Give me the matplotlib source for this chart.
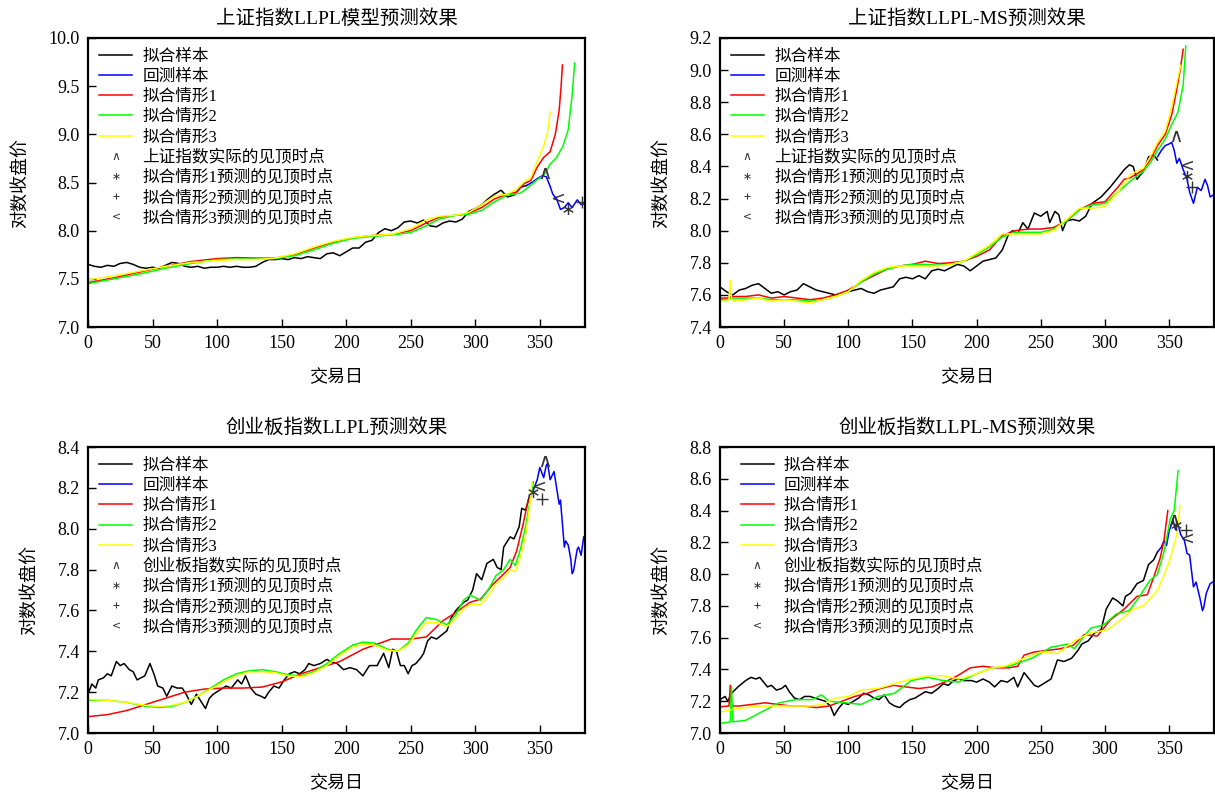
import matplotlib
matplotlib.use("Agg")
import matplotlib.pyplot as plt
from matplotlib.lines import Line2D

plt.rcParams['font.family'] = ['Liberation Serif', 'Noto Sans CJK SC']
plt.rcParams['axes.unicode_minus'] = False

# ---------------- Panel 1: 上证指数 LLPL ----------------
p1_title = "上证指数LLPL模型预测效果"
p1_black_x = [0, 5, 10, 15, 20, 25, 30, 35, 40, 45, 50, 55, 60, 65, 70, 75, 80, 85, 90, 95, 100, 105, 110, 115, 120, 125, 130, 135, 140, 145, 150, 155, 160, 165, 170, 175, 180, 185, 190, 195, 200, 205, 210, 215, 220, 225, 230, 235, 240, 245, 250, 255, 260, 265, 270, 275, 280, 285, 290, 295, 300, 305, 310, 315, 320, 325, 330, 335, 340]
p1_black_y = [7.65, 7.63, 7.62, 7.64, 7.63, 7.66, 7.67, 7.65, 7.62, 7.61, 7.62, 7.61, 7.64, 7.67, 7.66, 7.63, 7.62, 7.63, 7.61, 7.62, 7.62, 7.63, 7.62, 7.63, 7.62, 7.62, 7.63, 7.67, 7.70, 7.70, 7.71, 7.70, 7.72, 7.71, 7.73, 7.72, 7.71, 7.76, 7.77, 7.74, 7.78, 7.82, 7.82, 7.88, 7.90, 7.98, 8.02, 8.00, 8.03, 8.09, 8.10, 8.08, 8.11, 8.05, 8.04, 8.08, 8.10, 8.09, 8.12, 8.20, 8.23, 8.27, 8.33, 8.38, 8.42, 8.35, 8.37, 8.45, 8.47]
p1_blue_x = [340, 345, 348, 352, 355, 358, 360, 363, 366, 369, 372, 375, 379, 382, 385]
p1_blue_y = [8.47, 8.51, 8.54, 8.57, 8.56, 8.46, 8.38, 8.33, 8.22, 8.24, 8.29, 8.24, 8.32, 8.27, 8.28]
p1_red_x = [0, 20, 40, 60, 80, 100, 115, 130, 145, 160, 175, 190, 205, 220, 235, 250, 262, 272, 285, 295, 305, 315, 325, 332, 338, 343, 348, 353, 358, 362, 365, 366.5, 367.5]
p1_red_y = [7.46, 7.51, 7.57, 7.63, 7.68, 7.71, 7.72, 7.715, 7.715, 7.75, 7.82, 7.88, 7.925, 7.95, 7.96, 8.00, 8.08, 8.14, 8.16, 8.18, 8.24, 8.33, 8.38, 8.40, 8.49, 8.52, 8.66, 8.76, 8.82, 9.00, 9.25, 9.50, 9.72]
p1_green_x = [0, 20, 40, 60, 80, 100, 115, 130, 145, 160, 175, 190, 205, 220, 235, 250, 262, 272, 285, 295, 305, 315, 325, 335, 342, 348, 353, 358, 363, 368, 372, 375, 377]
p1_green_y = [7.45, 7.50, 7.55, 7.61, 7.66, 7.70, 7.705, 7.705, 7.71, 7.74, 7.80, 7.87, 7.92, 7.94, 7.955, 7.98, 8.05, 8.12, 8.16, 8.17, 8.21, 8.30, 8.37, 8.39, 8.46, 8.53, 8.57, 8.69, 8.76, 8.88, 9.05, 9.40, 9.74]
p1_yellow_x = [0, 20, 40, 60, 80, 100, 115, 130, 145, 160, 175, 190, 205, 220, 235, 250, 262, 272, 285, 295, 305, 315, 325, 332, 338, 343, 348, 353, 356, 358]
p1_yellow_y = [7.49, 7.53, 7.58, 7.63, 7.67, 7.69, 7.70, 7.70, 7.715, 7.76, 7.83, 7.89, 7.93, 7.95, 7.96, 8.02, 8.11, 8.15, 8.16, 8.19, 8.27, 8.36, 8.38, 8.43, 8.51, 8.55, 8.72, 8.88, 9.02, 9.23]
p1_peak = [(354, 8.60)]
p1_top1 = [(372, 8.22)]
p1_top2 = [(382.6, 8.30)]
p1_top3 = [(364, 8.34)]
p1_yticks = [7.0, 7.5, 8.0, 8.5, 9.0, 9.5, 10.0]

# ---------------- Panel 2: 上证指数 LLPL-MS ----------------
p2_title = "上证指数LLPL-MS预测效果"
p2_black_x = [0, 5, 10, 15, 20, 25, 30, 35, 40, 45, 50, 55, 60, 65, 70, 75, 80, 85, 90, 95, 100, 105, 110, 115, 120, 125, 130, 135, 140, 145, 150, 155, 160, 165, 170, 175, 180, 185, 190, 195, 200, 205, 210, 215, 220, 225, 228, 232, 236, 240, 245, 250, 255, 257, 261, 264, 267, 270, 275, 280, 285, 290, 297, 304, 310, 315, 319, 322, 325, 330, 334, 338, 341]
p2_black_y = [7.65, 7.62, 7.60, 7.63, 7.64, 7.66, 7.67, 7.64, 7.61, 7.62, 7.60, 7.62, 7.63, 7.67, 7.65, 7.63, 7.62, 7.61, 7.60, 7.61, 7.62, 7.63, 7.64, 7.62, 7.61, 7.63, 7.64, 7.65, 7.70, 7.71, 7.70, 7.72, 7.70, 7.75, 7.76, 7.75, 7.77, 7.79, 7.78, 7.75, 7.78, 7.81, 7.82, 7.83, 7.88, 7.98, 8.00, 7.98, 8.05, 8.01, 8.11, 8.09, 8.12, 8.05, 8.12, 8.10, 8.00, 8.06, 8.07, 8.06, 8.09, 8.17, 8.21, 8.27, 8.33, 8.38, 8.41, 8.40, 8.32, 8.37, 8.46, 8.47, 8.44]
p2_blue_x = [341, 344, 347, 350, 352, 354, 356, 358, 361, 364, 366, 369, 372, 375, 378, 380, 382, 384]
p2_blue_y = [8.46, 8.50, 8.53, 8.54, 8.55, 8.50, 8.42, 8.45, 8.38, 8.32, 8.24, 8.17, 8.27, 8.25, 8.32, 8.28, 8.21, 8.22]
p2_red_x = [0, 5, 10, 20, 30, 40, 50, 60, 70, 80, 90, 100, 110, 120, 130, 140, 150, 160, 170, 180, 190, 200, 210, 220, 230, 240, 250, 260, 270, 280, 290, 300, 310, 315, 320, 330, 336, 341, 347, 352, 356, 359, 361]
p2_red_y = [7.58, 7.58, 7.59, 7.59, 7.60, 7.58, 7.59, 7.58, 7.57, 7.58, 7.60, 7.63, 7.68, 7.72, 7.76, 7.78, 7.79, 7.81, 7.795, 7.80, 7.81, 7.84, 7.88, 7.97, 8.00, 8.01, 8.01, 8.02, 8.06, 8.13, 8.17, 8.18, 8.27, 8.32, 8.33, 8.38, 8.45, 8.53, 8.60, 8.72, 8.88, 9.02, 9.13]
p2_green_x = [0, 5, 10, 20, 30, 40, 50, 60, 70, 80, 90, 100, 110, 120, 130, 140, 150, 160, 170, 180, 190, 200, 210, 220, 230, 240, 250, 260, 270, 280, 290, 300, 310, 320, 330, 336, 341, 347, 352, 357, 361, 363]
p2_green_y = [7.57, 7.57, 7.58, 7.58, 7.58, 7.57, 7.57, 7.57, 7.56, 7.57, 7.59, 7.62, 7.68, 7.73, 7.76, 7.78, 7.79, 7.79, 7.785, 7.79, 7.81, 7.85, 7.90, 7.96, 7.99, 7.99, 7.99, 8.01, 8.06, 8.13, 8.16, 8.17, 8.24, 8.31, 8.37, 8.43, 8.50, 8.57, 8.66, 8.74, 8.91, 9.15]
p2_yellow_x = [0, 5, 7, 8, 9, 12, 20, 30, 40, 50, 60, 70, 80, 90, 100, 110, 120, 130, 140, 150, 160, 170, 180, 190, 200, 210, 220, 230, 240, 250, 260, 270, 280, 290, 300, 310, 320, 330, 336, 341, 347, 352, 356, 359]
p2_yellow_y = [7.56, 7.56, 7.57, 7.69, 7.57, 7.56, 7.57, 7.58, 7.56, 7.57, 7.56, 7.55, 7.57, 7.59, 7.62, 7.69, 7.74, 7.77, 7.78, 7.78, 7.78, 7.78, 7.79, 7.81, 7.86, 7.91, 7.98, 7.98, 7.98, 7.98, 8.00, 8.07, 8.14, 8.14, 8.15, 8.24, 8.35, 8.39, 8.47, 8.55, 8.62, 8.77, 8.92, 9.03]
p2_peak = [(355, 8.59)]
p2_top1 = [(363.6, 8.34)]
p2_top2 = [(368, 8.27)]
p2_top3 = [(363.6, 8.41)]
p2_yticks = [7.4, 7.6, 7.8, 8.0, 8.2, 8.4, 8.6, 8.8, 9.0, 9.2]

# ---------------- Panel 3: 创业板指数 LLPL ----------------
p3_title = "创业板指数LLPL预测效果"
p3_black_x = [0, 3, 6, 8, 12, 15, 18, 22, 25, 28, 32, 35, 38, 41, 44, 48, 51, 54, 58, 61, 65, 69, 73, 76, 80, 84, 88, 91, 94, 97, 102, 107, 111, 116, 119, 122, 126, 130, 134, 137, 140, 144, 148, 152, 156, 160, 164, 168, 171, 175, 180, 185, 188, 193, 198, 203, 208, 213, 218, 224, 229, 233, 236, 239, 242, 245, 248, 251, 254, 258, 260, 263, 266, 270, 274, 278, 281, 285, 288, 291, 294, 298, 301, 305, 309, 314, 317, 320, 322, 327, 330, 334, 336, 339, 342]
p3_black_y = [7.19, 7.24, 7.22, 7.26, 7.27, 7.29, 7.28, 7.35, 7.33, 7.34, 7.31, 7.30, 7.26, 7.27, 7.28, 7.34, 7.29, 7.23, 7.22, 7.18, 7.23, 7.22, 7.22, 7.19, 7.14, 7.19, 7.15, 7.12, 7.17, 7.19, 7.21, 7.23, 7.22, 7.26, 7.24, 7.28, 7.22, 7.19, 7.18, 7.17, 7.20, 7.23, 7.22, 7.26, 7.29, 7.30, 7.29, 7.31, 7.34, 7.33, 7.34, 7.36, 7.35, 7.34, 7.31, 7.32, 7.31, 7.28, 7.33, 7.33, 7.39, 7.32, 7.41, 7.40, 7.33, 7.33, 7.29, 7.33, 7.34, 7.37, 7.39, 7.45, 7.47, 7.46, 7.48, 7.50, 7.56, 7.60, 7.62, 7.64, 7.65, 7.70, 7.78, 7.75, 7.83, 7.85, 7.81, 7.80, 7.91, 7.96, 7.95, 8.01, 8.10, 8.09, 8.16]
p3_blue_x = [342, 345, 348, 350, 353, 355, 356, 358, 361, 363, 365, 366, 369, 370, 372, 374, 375, 376, 379, 380, 382, 384]
p3_blue_y = [8.16, 8.19, 8.24, 8.30, 8.25, 8.31, 8.32, 8.24, 8.28, 8.20, 8.12, 8.14, 7.91, 7.94, 7.92, 7.85, 7.78, 7.79, 7.90, 7.91, 7.87, 7.96]
p3_red_x = [0, 15, 30, 45, 60, 75, 90, 105, 120, 135, 150, 165, 180, 195, 213, 235, 250, 262, 275, 285, 296, 304, 314, 319, 327, 332, 337, 341]
p3_red_y = [7.08, 7.09, 7.11, 7.14, 7.17, 7.20, 7.215, 7.22, 7.22, 7.225, 7.25, 7.29, 7.32, 7.35, 7.41, 7.46, 7.46, 7.47, 7.55, 7.59, 7.64, 7.655, 7.73, 7.76, 7.81, 7.89, 8.02, 8.14]
p3_green_x = [0, 15, 30, 45, 55, 65, 75, 85, 95, 105, 115, 125, 135, 145, 155, 165, 175, 185, 195, 205, 213, 222, 232, 240, 248, 255, 262, 270, 278, 285, 291, 296, 304, 310, 316, 322, 327, 331, 335, 339, 342, 345]
p3_green_y = [7.16, 7.16, 7.15, 7.13, 7.125, 7.13, 7.15, 7.18, 7.22, 7.26, 7.29, 7.305, 7.31, 7.30, 7.285, 7.28, 7.30, 7.34, 7.39, 7.43, 7.445, 7.44, 7.41, 7.40, 7.44, 7.51, 7.565, 7.555, 7.53, 7.58, 7.65, 7.675, 7.65, 7.70, 7.77, 7.80, 7.85, 7.82, 7.90, 8.01, 8.12, 8.23]
p3_yellow_x = [0, 15, 30, 45, 55, 65, 75, 85, 95, 105, 115, 125, 135, 145, 155, 165, 175, 185, 195, 205, 213, 222, 232, 240, 248, 255, 262, 270, 278, 285, 291, 296, 304, 310, 316, 322, 327, 331, 335, 339, 342, 344]
p3_yellow_y = [7.165, 7.16, 7.15, 7.135, 7.13, 7.135, 7.15, 7.18, 7.215, 7.25, 7.28, 7.30, 7.30, 7.295, 7.28, 7.275, 7.295, 7.33, 7.38, 7.42, 7.435, 7.43, 7.405, 7.40, 7.43, 7.49, 7.54, 7.54, 7.52, 7.56, 7.61, 7.63, 7.63, 7.67, 7.73, 7.76, 7.80, 7.79, 7.86, 7.97, 8.10, 8.23]
p3_peak = [(354.3, 8.33)]
p3_top1 = [(345, 8.18)]
p3_top2 = [(351.7, 8.145)]
p3_top3 = [(349, 8.21)]
p3_yticks = [7.0, 7.2, 7.4, 7.6, 7.8, 8.0, 8.2, 8.4]

# ---------------- Panel 4: 创业板指数 LLPL-MS ----------------
p4_title = "创业板指数LLPL-MS预测效果"
p4_black_x = [0, 4, 6, 9, 14, 17, 20, 24, 28, 31, 34, 37, 40, 44, 48, 51, 54, 58, 62, 66, 70, 74, 78, 82, 86, 89, 92, 96, 100, 104, 108, 112, 116, 120, 124, 128, 132, 136, 140, 144, 148, 152, 156, 160, 165, 170, 174, 178, 182, 186, 190, 196, 200, 205, 210, 214, 219, 224, 229, 232, 237, 241, 245, 248, 252, 258, 263, 268, 274, 279, 282, 287, 292, 297, 301, 306, 310, 314, 316, 320, 325, 330, 334, 338, 341]
p4_black_y = [7.21, 7.23, 7.20, 7.25, 7.29, 7.31, 7.33, 7.35, 7.34, 7.35, 7.32, 7.29, 7.30, 7.27, 7.28, 7.30, 7.26, 7.22, 7.21, 7.23, 7.23, 7.22, 7.21, 7.20, 7.17, 7.11, 7.15, 7.19, 7.18, 7.20, 7.22, 7.25, 7.24, 7.22, 7.21, 7.24, 7.19, 7.17, 7.16, 7.19, 7.21, 7.22, 7.24, 7.26, 7.25, 7.28, 7.31, 7.30, 7.33, 7.34, 7.33, 7.33, 7.32, 7.34, 7.32, 7.29, 7.33, 7.32, 7.35, 7.29, 7.38, 7.34, 7.30, 7.29, 7.31, 7.34, 7.46, 7.45, 7.47, 7.52, 7.56, 7.58, 7.63, 7.65, 7.78, 7.85, 7.83, 7.80, 7.86, 7.88, 7.94, 7.96, 8.06, 8.09, 8.14]
p4_blue_x = [341, 344, 346, 348, 350, 353, 355, 357, 359, 362, 364, 366, 369, 371, 374, 376, 377, 379, 382, 384]
p4_blue_y = [8.14, 8.17, 8.21, 8.18, 8.27, 8.34, 8.28, 8.31, 8.25, 8.21, 8.13, 8.12, 7.92, 7.95, 7.85, 7.77, 7.79, 7.88, 7.94, 7.95]
p4_red_x = [0, 7, 8, 9, 15, 25, 35, 45, 55, 65, 75, 85, 95, 105, 115, 125, 135, 145, 155, 165, 175, 185, 195, 205, 215, 225, 232, 237, 245, 255, 265, 275, 284, 294, 304, 315, 325, 333, 338, 343, 346, 349]
p4_red_y = [7.165, 7.17, 7.30, 7.17, 7.17, 7.18, 7.19, 7.18, 7.17, 7.17, 7.16, 7.17, 7.20, 7.23, 7.25, 7.28, 7.30, 7.29, 7.28, 7.29, 7.32, 7.36, 7.41, 7.42, 7.41, 7.41, 7.42, 7.49, 7.51, 7.52, 7.53, 7.55, 7.62, 7.61, 7.71, 7.78, 7.86, 7.87, 7.98, 8.10, 8.21, 8.40]
p4_green_x = [0, 8, 9, 10, 20, 33, 46, 59, 72, 79, 85, 98, 110, 123, 136, 149, 162, 174, 186, 199, 212, 225, 243, 258, 271, 276, 289, 299, 309, 319, 327, 335, 341, 346, 351, 354, 357]
p4_green_y = [7.06, 7.07, 7.29, 7.07, 7.08, 7.135, 7.19, 7.21, 7.21, 7.24, 7.20, 7.19, 7.18, 7.23, 7.25, 7.33, 7.35, 7.33, 7.32, 7.37, 7.41, 7.42, 7.47, 7.54, 7.56, 7.53, 7.66, 7.68, 7.75, 7.77, 7.86, 7.96, 8.00, 8.14, 8.35, 8.40, 8.65]
p4_yellow_x = [0, 10, 20, 30, 40, 50, 60, 70, 80, 90, 100, 110, 123, 136, 149, 162, 174, 186, 199, 212, 222, 237, 250, 263, 276, 289, 302, 312, 322, 330, 341, 346, 351, 356, 358.5]
p4_yellow_y = [7.13, 7.15, 7.16, 7.17, 7.17, 7.17, 7.17, 7.17, 7.18, 7.22, 7.23, 7.27, 7.28, 7.31, 7.34, 7.36, 7.36, 7.34, 7.37, 7.41, 7.42, 7.47, 7.51, 7.50, 7.58, 7.63, 7.65, 7.71, 7.78, 7.80, 7.90, 7.99, 8.10, 8.25, 8.43]
p4_peak = [(354, 8.34)]
p4_top1 = [(355.5, 8.31)]
p4_top2 = [(363, 8.28)]
p4_top3 = [(363.6, 8.23)]
p4_yticks = [7.0, 7.2, 7.4, 7.6, 7.8, 8.0, 8.2, 8.4, 8.6, 8.8]

xticks = [0, 50, 100, 150, 200, 250, 300, 350]
series_labels = ["拟合样本", "回测样本", "拟合情形1", "拟合情形2", "拟合情形3"]
marker_labels_sh = ["上证指数实际的见顶时点", "拟合情形1预测的见顶时点", "拟合情形2预测的见顶时点", "拟合情形3预测的见顶时点"]
marker_labels_cy = ["创业板指数实际的见顶时点", "拟合情形1预测的见顶时点", "拟合情形2预测的见顶时点", "拟合情形3预测的见顶时点"]
xlabel = "交易日"
ylabel = "对数收盘价"

colors = ["#000000", "#0000ff", "#ff0000", "#00ff00", "#ffff00"]
markers = [r'$\wedge$', r'$\ast$', '+', r'$<$']

fig = plt.figure(figsize=(12.15, 7.99), dpi=100)
W, H = 1215.0, 799.0

def axes_px(l, t, r, b):
    return fig.add_axes([l / W, 1 - b / H, (r - l) / W, (b - t) / H])

def panel(ax, title, lines, marks, mlabels, ylim, yticks, leg_x):
    handles = []
    for (xs, ys), c, lab in zip(lines, colors, series_labels):
        h, = ax.plot(xs, ys, color=c, lw=1.1, label=lab)
        handles.append(h)
    for pts, m, lab in zip(marks, markers, mlabels):
        mx = [p[0] for p in pts]
        my = [p[1] for p in pts]
        if m == '+':
            ax.plot(mx, my, linestyle='none', marker=m, color='#333333',
                    markersize=8, markeredgewidth=1.0)
            handles.append(Line2D([], [], linestyle='none', marker=m, color='#333333',
                                  markersize=5, markeredgewidth=0.7, label=lab))
        else:
            ax.plot(mx, my, linestyle='none', marker=m, color='#333333',
                    markersize=8, markeredgewidth=0.0)
            handles.append(Line2D([], [], linestyle='none', marker=m, color='#333333',
                                  markersize=5, markeredgewidth=0.0, label=lab))
    ax.set_xlim(0, 385)
    ax.set_ylim(*ylim)
    ax.set_xticks(xticks)
    ax.set_yticks(yticks)
    ax.set_yticklabels([f"{v:.1f}" for v in yticks])
    ax.tick_params(direction='in', length=6, width=1.0, labelsize=13,
                   top=False, right=False, pad=6)
    for s in ax.spines.values():
        s.set_linewidth(1.6)
    ax.set_title(title, fontsize=14, pad=10)
    ax.set_xlabel(xlabel, fontsize=13, labelpad=12)
    ax.set_ylabel(ylabel, fontsize=13, labelpad=14)
    ax.legend(handles=handles, loc='upper left', bbox_to_anchor=(leg_x, 1.0),
              frameon=False, fontsize=12, handlelength=2.0, handletextpad=0.6,
              labelspacing=0.25, borderaxespad=0.25)

ax1 = axes_px(88, 38, 585, 327)
ax2 = axes_px(720, 38, 1214, 327)
ax3 = axes_px(88, 447, 585, 733)
ax4 = axes_px(720, 447, 1214, 733)

panel(ax1, p1_title,
      [(p1_black_x, p1_black_y), (p1_blue_x, p1_blue_y), (p1_red_x, p1_red_y),
       (p1_green_x, p1_green_y), (p1_yellow_x, p1_yellow_y)],
      [p1_peak, p1_top1, p1_top2, p1_top3], marker_labels_sh, (7.0, 10.0), p1_yticks, 0.0)
panel(ax2, p2_title,
      [(p2_black_x, p2_black_y), (p2_blue_x, p2_blue_y), (p2_red_x, p2_red_y),
       (p2_green_x, p2_green_y), (p2_yellow_x, p2_yellow_y)],
      [p2_peak, p2_top1, p2_top2, p2_top3], marker_labels_sh, (7.4, 9.2), p2_yticks, 0.0)
panel(ax3, p3_title,
      [(p3_black_x, p3_black_y), (p3_blue_x, p3_blue_y), (p3_red_x, p3_red_y),
       (p3_green_x, p3_green_y), (p3_yellow_x, p3_yellow_y)],
      [p3_peak, p3_top1, p3_top2, p3_top3], marker_labels_cy, (7.0, 8.4), p3_yticks, 0.0)
panel(ax4, p4_title,
      [(p4_black_x, p4_black_y), (p4_blue_x, p4_blue_y), (p4_red_x, p4_red_y),
       (p4_green_x, p4_green_y), (p4_yellow_x, p4_yellow_y)],
      [p4_peak, p4_top1, p4_top2, p4_top3], marker_labels_cy, (7.0, 8.8), p4_yticks, 0.02)

fig.savefig("out.png", dpi=100)
